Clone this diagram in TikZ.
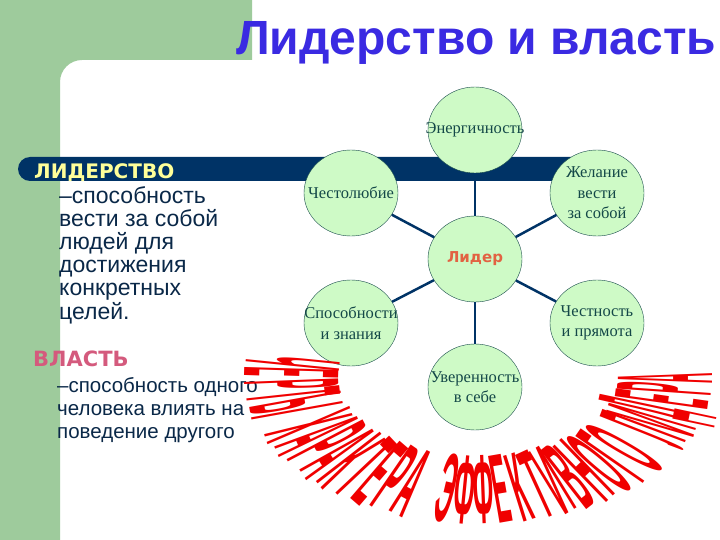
\documentclass[tikz,border=0pt]{standalone}
\usepackage{fontspec}
\setmainfont{Liberation Serif}
\newfontfamily\arialf{Liberation Sans}
\newfontfamily\verdf{DejaVu Sans}
\usepackage{pdfrender}
\usetikzlibrary{shapes.geometric}
\definecolor{slidegreen}{RGB}{158,203,156}
\definecolor{barblue}{RGB}{0,51,102}
\definecolor{ovalfill}{RGB}{206,250,198}
\definecolor{ovalline}{RGB}{20,72,72}
\definecolor{titleblue}{RGB}{58,42,226}
\definecolor{textnavy}{RGB}{10,40,72}
\definecolor{liderred}{RGB}{226,98,66}
\definecolor{vlastpink}{RGB}{212,90,125}
\definecolor{lidyellow}{RGB}{255,255,153}
\definecolor{arcred}{RGB}{240,0,0}
\definecolor{arcdark}{RGB}{125,0,0}
\tikzstyle{trait}=[ellipse, draw=ovalline, fill=ovalfill, minimum width=94, minimum height=86, inner sep=-20pt, align=center, text=ovalline, font=\fontsize{16.5}{20.5}\selectfont]
\tikzstyle{link}=[draw=barblue, line width=2.5]
\tikzstyle{arcletter}=[inner sep=0, text=arcred, font=\arialf\bfseries\fontsize{10}{10}\selectfont]

\begin{document}
\begin{tikzpicture}[x=1pt, y=-1pt]
\useasboundingbox (0,0) rectangle (720,540);
\fill[white] (0,0) rectangle (720,540);
\fill[slidegreen] (0,0) -- (252,0) -- (252,60) -- (82,60) arc[start angle=90, end angle=180, radius=22pt] -- (60,540) -- (0,540) -- cycle;
\fill[barblue] (30,157) -- (575,157) -- (575,181) -- (30,181) arc[start angle=270, end angle=90, radius=12pt] -- cycle;
\node[anchor=base west, inner sep=0, text=titleblue, font=\arialf\bfseries\fontsize{48}{48}\selectfont] (title) at (236,55) {Лидерство и власть};
\node[anchor=base west, inner sep=0, text=lidyellow, font=\verdf\bfseries\fontsize{20}{20}\selectfont] (lidhead) at (34,179) {ЛИДЕРСТВО};
\node[anchor=north west, inner sep=0, align=left, text=textnavy, font=\arialf\fontsize{23}{23.2}\selectfont] (lidtext) at (59,186) {–способность\\вести за собой\\людей для\\достижения\\конкретных\\целей.};
\node[anchor=base west, inner sep=0, text=vlastpink, font=\verdf\bfseries\fontsize{21}{21}\selectfont] (vlasthead) at (33,366) {ВЛАСТЬ};
\node[anchor=north west, inner sep=0, align=left, text=textnavy, font=\arialf\fontsize{20.5}{23}\selectfont] (vlasttext) at (57,377) {–способность одного\\человека влиять на\\поведение другого};
\node[trait, text=liderred, font=\verdf\bfseries\fontsize{15}{15}\selectfont] (lid) at (475,259) {Лидер};
\node[trait] (tr1) at (475,130) {Энергичность};
\node[trait] (tr2) at (351,193) {Честолюбие};
\node[trait] (tr3) at (597,193) {Желание\\вести\\за собой};
\node[trait] (tr4) at (351,323) {Способности\\и знания};
\node[trait] (tr5) at (597,323) {Честность\\и прямота};
\node[trait] (tr6) at (475,387) {Уверенность\\в себе};
\draw[link] (lid) -- (tr1);
\draw[link] (lid) -- (tr2);
\draw[link] (lid) -- (tr3);
\draw[link] (lid) -- (tr4);
\draw[link] (lid) -- (tr5);
\draw[link] (lid) -- (tr6);
\foreach \ch [count=\i from 0] in {Ч,Е,Р,Т,Ы,{},Х,А,Р,А,К,Т,Е,Р,А,{},Э,Ф,Ф,Е,К,Т,И,В,Н,О,Г,О,{},Л,И,Д,Е,Р,А}{
  \pgfmathsetmacro\ang{-8+\i*188/34}
  \pgfmathsetmacro\px{478-187*cos(\ang)}
  \pgfmathsetmacro\py{378+112*sin(\ang)}
  \pgfmathsetmacro\rot{atan2(70*sin(\ang),98*cos(\ang))-90}
  \pgfmathsetmacro\sy{10*sqrt((0.98*cos(\ang))^2+(0.70*sin(\ang))^2)/0.716}
  \pgfmathsetmacro\sx{100*sqrt((1.87*sin(\ang))^2+(1.12*cos(\ang))^2)*0.0965*0.95/7.2}
  \node[arcletter, rotate=\rot, xscale=\sx, yscale=\sy] (arc\i) at (\px,\py) {\textpdfrender{TextRenderingMode=FillStroke, LineWidth=0.1, StrokeColor=arcdark}{\ch}};
}
\end{tikzpicture}
\end{document}
